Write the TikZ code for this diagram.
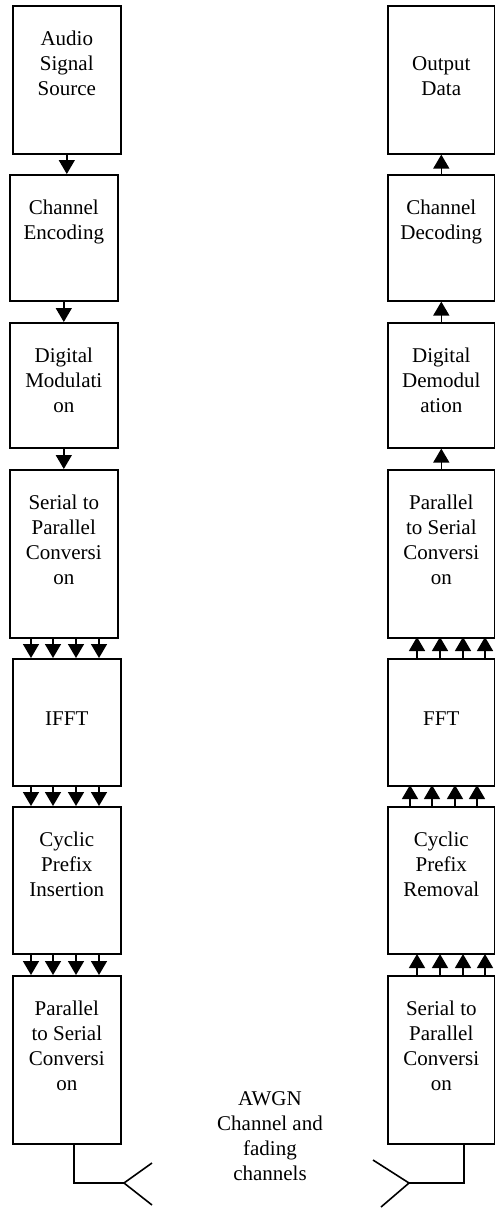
\documentclass[tikz,border=0pt]{standalone}
\usepackage{fontspec}
\setmainfont{Liberation Serif}
\usepackage{tikz}
\usetikzlibrary{calc, arrows, arrows.meta, positioning}
\tikzset{>=latex}
\tikzset{
	blk/.style = {draw, line width = 1.6pt, inner sep = 0pt, anchor = north west},
	lbl/.style = {font = \fontsize{21}{25}\selectfont, align = center, inner sep = 0pt},
	arr/.style = {line width = 1.5pt, -{Triangle[width = 16pt, length = 14pt]}},
	wire/.style = {line width = 1.6pt}
}

\begin{document}
\begin{tikzpicture}[x = 1pt, y = 1pt]
\useasboundingbox (0, 0) rectangle (495, -1208);

% transmitter chain (left) and receiver chain (right)
\foreach \n / \x / \y / \h in {tx1/12/5/148, tx2/9/174/126, tx3/9/322/125, tx4/9/469/168, tx5/12/658/127, tx6/12/806/147, tx7/12/975/168}{
	\node[blk, minimum width = 108pt, minimum height = \h pt] (\n) at (\x, -\y) {};
}
\foreach \n / \y / \h in {rx1/5/148, rx2/174/126, rx3/322/125, rx4/469/168, rx5/658/127, rx6/806/147, rx7/975/168}{
	\node[blk, minimum width = 107pt, minimum height = \h pt] (\n) at (387, -\y) {};
}

\node[lbl, below = 26pt of tx1.north] (txt1) {Audio\\Signal\\Source};
\node[lbl, below = 26pt of tx2.north] (txt2) {Channel\\Encoding};
\node[lbl, below = 26pt of tx3.north] (txt3) {Digital\\Modulati\\on};
\node[lbl, below = 26pt of tx4.north] (txt4) {Serial to\\Parallel\\Conversi\\on};
\node[lbl] (txt5) at ([yshift = 4pt]tx5.center) {IFFT};
\node[lbl, below = 26pt of tx6.north] (txt6) {Cyclic\\Prefix\\Insertion};
\node[lbl, below = 26pt of tx7.north] (txt7) {Parallel\\to Serial\\Conversi\\on};

\node[lbl, below = 51pt of rx1.north] (rxt1) {Output\\Data};
\node[lbl, below = 26pt of rx2.north] (rxt2) {Channel\\Decoding};
\node[lbl, below = 26pt of rx3.north] (rxt3) {Digital\\Demodul\\ation};
\node[lbl, below = 26pt of rx4.north] (rxt4) {Parallel\\to Serial\\Conversi\\on};
\node[lbl] (rxt5) at ([yshift = 4pt]rx5.center) {FFT};
\node[lbl, below = 26pt of rx6.north] (rxt6) {Cyclic\\Prefix\\Removal};
\node[lbl, below = 26pt of rx7.north] (rxt7) {Serial to\\Parallel\\Conversi\\on};

\node[lbl, anchor = north] (awgn) at (270, -1091) {AWGN\\Channel and\\fading\\channels};

% single arrows
\foreach \a / \b in {tx1/tx2, tx2/tx3, tx3/tx4}{
	\draw[arr] (\a.south) -- (\a.south |- \b.north);
}
\foreach \a / \b in {rx2/rx1, rx3/rx2, rx4/rx3}{
	\draw[arr] (\a.north) -- (\b.south);
}

% parallel arrows
\foreach \a / \b in {tx4/tx5, tx5/tx6, tx6/tx7}{
	\foreach \dx in {19, 41, 64, 87}{
		\draw[arr] ($(\b.north west) + (\dx, 21)$) -- ($(\b.north west) + (\dx, 0)$);
	}
}
\foreach \a / \b in {rx5/rx4, rx7/rx6}{
	\foreach \dx in {30, 53, 76, 98}{
		\draw[arr] ($(\a.north west) + (\dx, 0)$) -- ($(\a.north west) + (\dx, 21)$);
	}
}
\foreach \dx in {23, 45, 68, 90}{
	\draw[arr] ($(rx6.north west) + (\dx, 0)$) -- ($(rx6.north west) + (\dx, 21)$);
}

% antennas
\coordinate (txant) at (124, -1183);
\coordinate (rxant) at (409, -1183);
\draw[wire] ([xshift = 7pt]tx7.south) |- (txant);
\draw[wire] (152, -1163) -- (txant) -- (152, -1205);
\draw[wire] ([xshift = 22.5pt]rx7.south) |- (rxant);
\draw[wire] (373, -1160) -- (rxant) -- (381, -1207);

\end{tikzpicture}
\end{document}
